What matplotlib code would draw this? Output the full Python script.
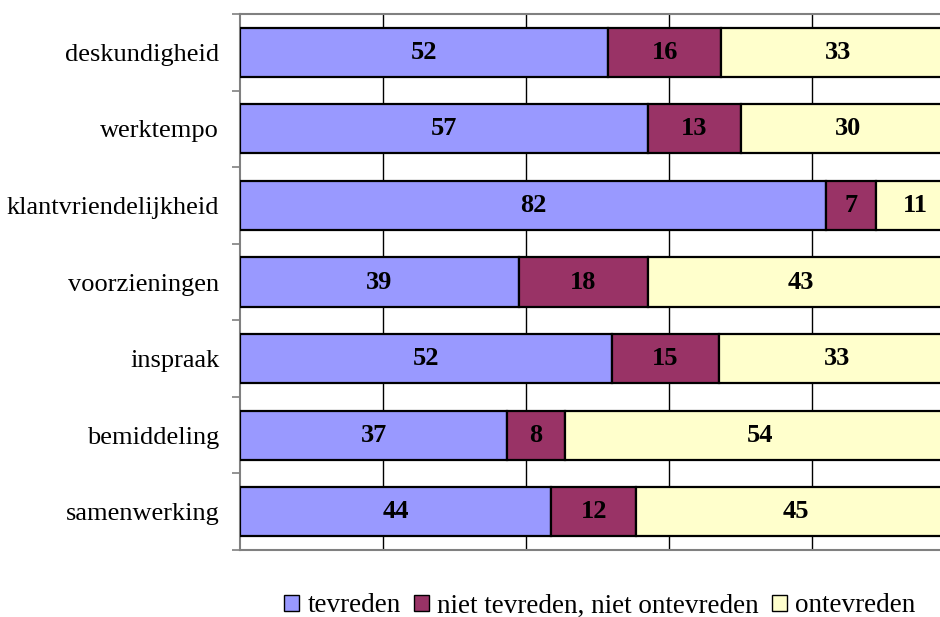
import matplotlib
matplotlib.use("Agg")
import matplotlib.pyplot as plt
import numpy as np
from matplotlib.patches import Patch

categories = ["deskundigheid", "werktempo", "klantvriendelijkheid", "voorzieningen",
              "inspraak", "bemiddeling", "samenwerking"]
tevreden = [52, 57, 82, 39, 52, 37, 44]
neutraal = [16, 13, 7, 18, 15, 8, 12]
ontevreden = [33, 30, 11, 43, 33, 54, 45]
series_names = ["tevreden", "niet tevreden, niet ontevreden", "ontevreden"]
colors = ["#9999FF", "#993366", "#FFFFCC"]

plt.rcParams['font.family'] = ['Liberation Serif', 'DejaVu Serif']

fig = plt.figure(figsize=(9.4, 6.17), dpi=100)
W, H = 940, 617
left, right, top, bottom = 240, 955, 14, 550
ax = fig.add_axes([left / W, 1 - bottom / H, (right - left) / W, (bottom - top) / H])

y = np.arange(len(categories))
data = np.array([tevreden, neutraal, ontevreden], dtype=float)
totals = data.sum(axis=0)
pct = data / totals * 100  # 100% stacked
lefts = np.zeros(len(categories))
for raw, vals, c in zip(data, pct, colors):
    bars = ax.barh(y, vals, left=lefts, height=0.64, color=c, edgecolor="black",
                   linewidth=1.6, zorder=3)
    for b, v in zip(bars, raw):
        ax.text(b.get_x() + b.get_width() / 2, b.get_y() + b.get_height() / 2,
                f"{int(round(v))}", ha="center", va="center", fontsize=19,
                fontweight="bold", zorder=4)
    lefts += vals

ax.set_xlim(0, 100)
ax.set_ylim(len(categories) - 0.5, -0.5)
ax.set_xticks([20, 40, 60, 80])
ax.xaxis.grid(True, color="black", linewidth=1.0, zorder=0)
ax.tick_params(axis="x", length=0, labelbottom=False)
ax.set_yticks(y)
ax.set_yticklabels(categories, fontsize=19)
ax.set_yticks(np.arange(-0.5, len(categories), 1), minor=True)
ax.tick_params(axis="y", which="major", length=0, pad=15)
ax.tick_params(axis="y", which="minor", length=6, color="#808080", width=1.2, direction="out")
for s in ["top", "bottom", "left"]:
    ax.spines[s].set_color("#808080")
    ax.spines[s].set_linewidth(1.5)
ax.spines["right"].set_visible(False)

handles = [Patch(facecolor=c, edgecolor="black", linewidth=1.0) for c in colors]
fig.legend(handles, series_names, loc="center", bbox_to_anchor=(600 / W, 1 - 606 / H),
           ncol=3, frameon=False, fontsize=19.5, handlelength=0.55, handleheight=0.55,
           handletextpad=0.3, columnspacing=0.5)

fig.savefig("out.png", dpi=100)
